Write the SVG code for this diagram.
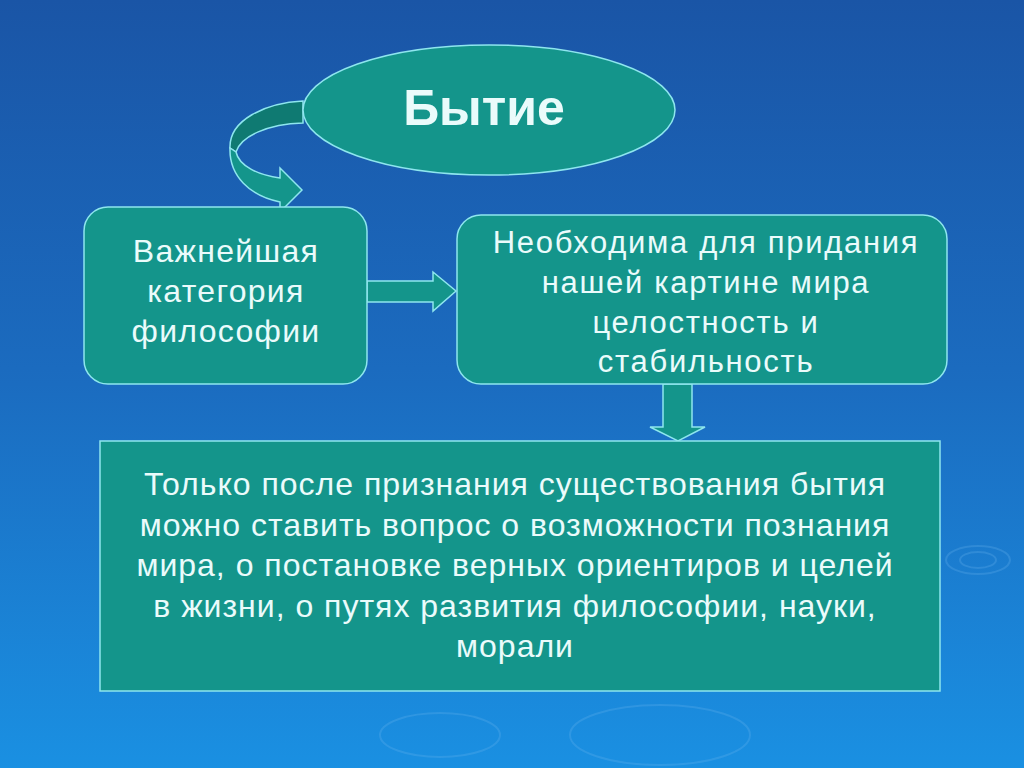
<svg xmlns="http://www.w3.org/2000/svg" width="1024" height="768" viewBox="0 0 1024 768">
<defs>
<linearGradient id="bg" x1="0" y1="0" x2="0" y2="1">
<stop offset="0" stop-color="#1a55a6"/>
<stop offset="0.5" stop-color="#1b6cc0"/>
<stop offset="1" stop-color="#1a90e2"/>
</linearGradient>
<style>
.box{fill:#14958b;stroke:#8ee6ee;stroke-width:1.5}
.conn{fill:#14958b;stroke:#8ee6ee;stroke-width:1.5;stroke-linejoin:miter}
.back{fill:#0f7a72;stroke:#8ee6ee;stroke-width:1.5}
.t{font-family:"Liberation Sans",Arial,sans-serif;fill:#eafbfb;text-anchor:middle}
.ripple{fill:none;stroke:#6fb8ee;stroke-opacity:0.25;stroke-width:2}
</style>
</defs>
<rect width="1024" height="768" fill="url(#bg)"/>
<g id="ripples">
<ellipse class="ripple" cx="978" cy="560" rx="32" ry="14"/>
<ellipse class="ripple" cx="978" cy="560" rx="18" ry="8"/>
<ellipse class="ripple" cx="440" cy="735" rx="60" ry="22"/>
<ellipse class="ripple" cx="660" cy="735" rx="90" ry="30"/>
</g>
<g id="connectors">
<path class="back" d="M303,101 C265,103 229,120 230,148 L236,152 C241,136 268,124 303,123 Z"/>
<path class="conn" d="M230,148 C229,176 250,196 280,202 L280,212 L302,190 L280,168 L280,178 C258,175 239,166 236,152 Z"/>
<path class="conn" d="M367,281 L433,281 L433,272 L456,291 L433,311 L433,302 L367,302 Z"/>
<path class="conn" d="M663,384 L663,427 L650,427 L678,441 L705,427 L692,427 L692,384 Z"/>
</g>
<g id="node-bytie">
<ellipse class="box" cx="489" cy="110" rx="186" ry="65"/>
<text class="t" x="484" y="125" font-size="50" font-weight="bold">Бытие</text>
</g>
<g id="node-category">
<rect class="box" x="84" y="207" width="283" height="177" rx="24"/>
<text class="t" font-size="32" letter-spacing="1.3"><tspan x="226" y="262">Важнейшая</tspan><tspan x="226" y="302">категория</tspan><tspan x="226" y="342">философии</tspan></text>
</g>
<g id="node-need">
<rect class="box" x="457" y="215" width="490" height="169" rx="24"/>
<text class="t" font-size="31" letter-spacing="1.7"><tspan x="706" y="253">Необходима для придания</tspan><tspan x="706" y="293">нашей картине мира</tspan><tspan x="706" y="333">целостность и</tspan><tspan x="706" y="372">стабильность</tspan></text>
</g>
<g id="node-only">
<rect class="box" x="100" y="441" width="840" height="250"/>
<text class="t" font-size="32" letter-spacing="1"><tspan x="515" y="495">Только после признания существования бытия</tspan><tspan x="515" y="536">можно ставить вопрос о возможности познания</tspan><tspan x="515" y="576">мира, о постановке верных ориентиров и целей</tspan><tspan x="515" y="617">в жизни, о путях развития философии, науки,</tspan><tspan x="515" y="657">морали</tspan></text>
</g>
</svg>
